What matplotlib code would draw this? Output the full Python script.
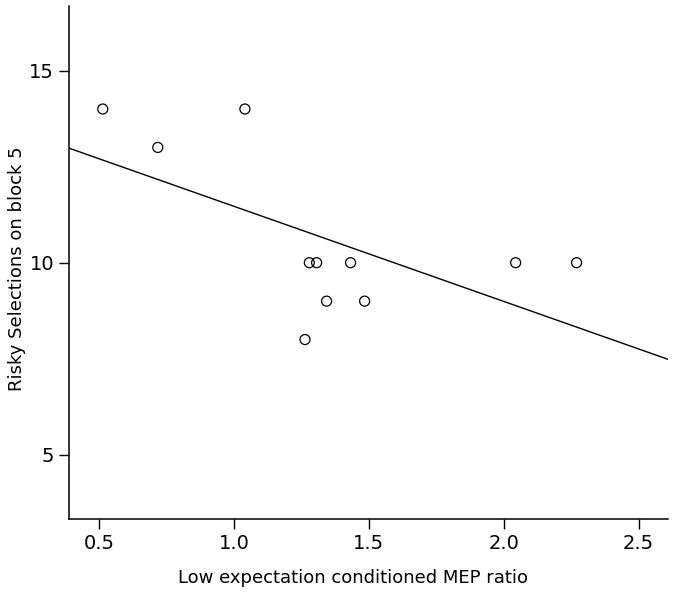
import numpy as np
import matplotlib
matplotlib.use('Agg')
import matplotlib.pyplot as plt

#-------- data --------
mep_ratio = [0.513, 0.717, 1.040, 1.263, 1.279, 1.306, 1.343, 1.432, 1.484, 2.044, 2.270]
risky_sel = [14, 13, 14, 8, 10, 10, 9, 10, 9, 10, 10]

x_ticks = [0.5, 1.0, 1.5, 2.0, 2.5]
y_ticks = [5, 10, 15]

x_lim = (0.389, 2.609)
y_lim = (3.33, 16.68)
#---------------------------------------------

plt.rcParams['font.family'] = 'DejaVu Sans'

fig = plt.figure(figsize=(6.75, 5.96), dpi=100)
ax = fig.add_axes([0.1027, 0.1292, 0.8869, 0.8607])

ax.scatter(mep_ratio, risky_sel, s=7.2**2, facecolors='none', edgecolors='black',
           linewidths=0.9, zorder=3)

# linear fit line across the full x range
slope, icpt = np.polyfit(mep_ratio, risky_sel, 1)
xx = np.array(x_lim)
ax.plot(xx, slope*xx + icpt, color='black', lw=1.0)

ax.set_xlim(x_lim)
ax.set_ylim(y_lim)
ax.set_xticks(x_ticks)
ax.set_yticks(y_ticks)
ax.set_xticklabels([f'{v:.1f}' for v in x_ticks])
ax.set_yticklabels([str(v) for v in y_ticks])

for s in ['top', 'right']:
    ax.spines[s].set_visible(False)
for s in ['left', 'bottom']:
    ax.spines[s].set_linewidth(1.1)
ax.tick_params(direction='out', length=7, width=1.0, pad=4, labelsize=14, colors='black')

ax.set_xlabel('Low expectation conditioned MEP ratio', fontsize=13)
ax.set_ylabel('Risky Selections on block 5', fontsize=13)
ax.xaxis.set_label_coords(0.474, -0.098)
ax.yaxis.set_label_coords(-0.073, 0.487)

fig.savefig('out.png', dpi=100)
